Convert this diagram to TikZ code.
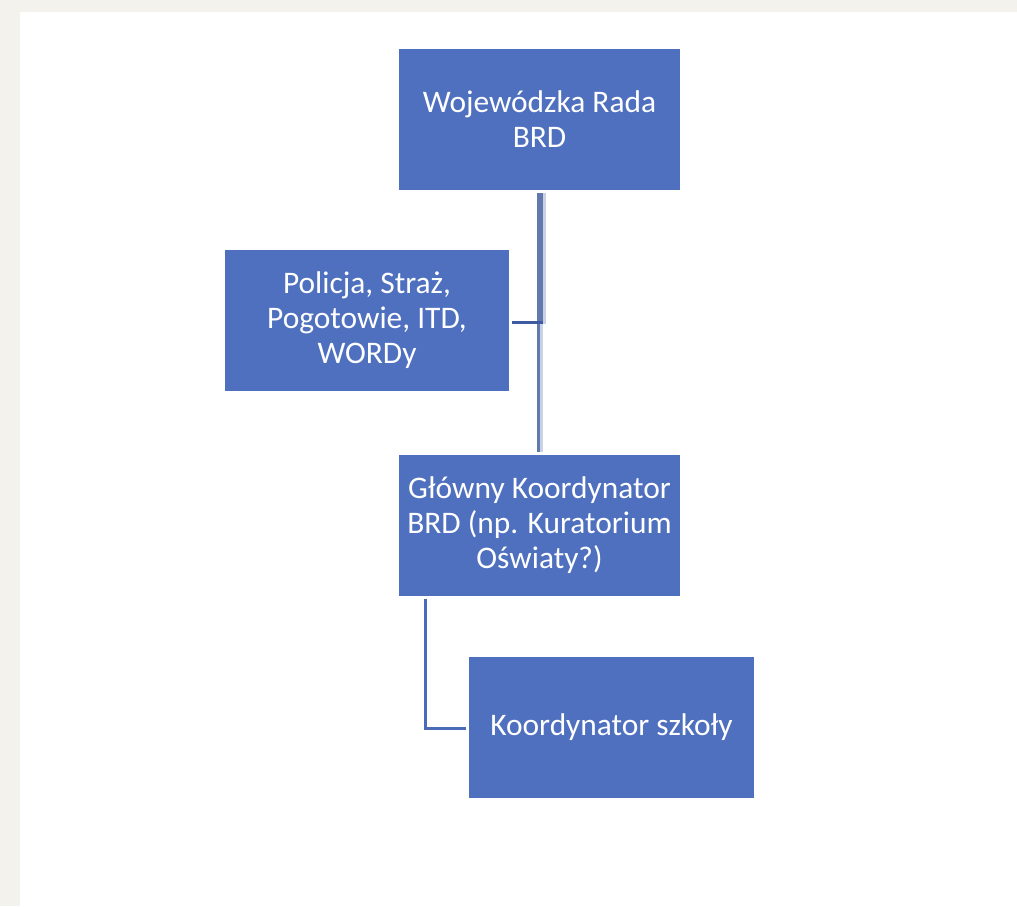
\documentclass[tikz,border=0pt]{standalone}
\usepackage{fontspec}
\setmainfont{Carlito}
\definecolor{boxblue}{HTML}{4F70BE}
\definecolor{pagebg}{HTML}{F4F2EC}
\definecolor{linedark}{HTML}{6279AE}
\definecolor{linelight}{HTML}{C9D2E5}
\definecolor{linehor}{HTML}{3F5A9E}
\definecolor{lineblue}{HTML}{4A6CB8}
\begin{document}
\begin{tikzpicture}[x=0.5pt,y=-0.5pt,
  box/.style={fill=boxblue, text=white, inner sep=0pt, minimum width=140.5pt,
    minimum height=70.5pt, align=center, font=\fontsize{15.7}{17.5}\selectfont},
  updark/.style={draw=linedark, line width=3pt},
  uplight/.style={draw=linelight, line width=1.5pt},
  lowdark/.style={draw=linedark, line width=1.5pt},
  lowlight/.style={draw=linelight, line width=1.5pt},
  horline/.style={draw=linehor, line width=1.5pt},
  elbow/.style={draw=lineblue, line width=1.5pt}]
\useasboundingbox (0,0) rectangle (1017,906);
\fill[pagebg] (0,0) rectangle (1017,906);
\fill[white] (20,12) rectangle (1017,906);

\node[box] (b1) at (539.5,119) {Wojewódzka Rada\\BRD};
\node[box, minimum width=142pt] (b2) at (367,320.5) {Policja, Straż,\\Pogotowie, ITD,\\WORDy};
\node[box] (b3) at (539.5,525.5) {Główny Koordynator\\BRD (np. Kuratorium\\Oświaty?)};
\node[box, minimum width=142.5pt] (b4) at (611.5,727.5) {Koordynator szkoły};

\coordinate (j) at ([yshift=-1pt]b2.east -| b1.south);

% main vertical connector b1 -> b3 with junction
\draw[updark] ([xshift=0.25pt,yshift=-1.5pt]b1.south) -- ([xshift=0.25pt,yshift=-0.75pt]j);
\draw[uplight] ([xshift=2.5pt,yshift=-1.5pt]b1.south) -- ([xshift=2.5pt,yshift=-0.75pt]j);
\draw[lowdark] ([xshift=-0.5pt,yshift=-0.75pt]j) -- ([xshift=-0.5pt,yshift=1.5pt]b3.north);
\draw[lowlight] ([xshift=1pt,yshift=-0.75pt]j) -- ([xshift=1pt,yshift=1.5pt]b3.north);
\draw[horline] ([xshift=1.5pt,yshift=-1pt]b2.east) -- ([xshift=1.75pt]j);

% elbow b3 -> b4
\draw[elbow] ([xshift=-57pt,yshift=-1.5pt]b3.south) |- ([xshift=-1.5pt,yshift=-0.5pt]b4.west);
\end{tikzpicture}
\end{document}
